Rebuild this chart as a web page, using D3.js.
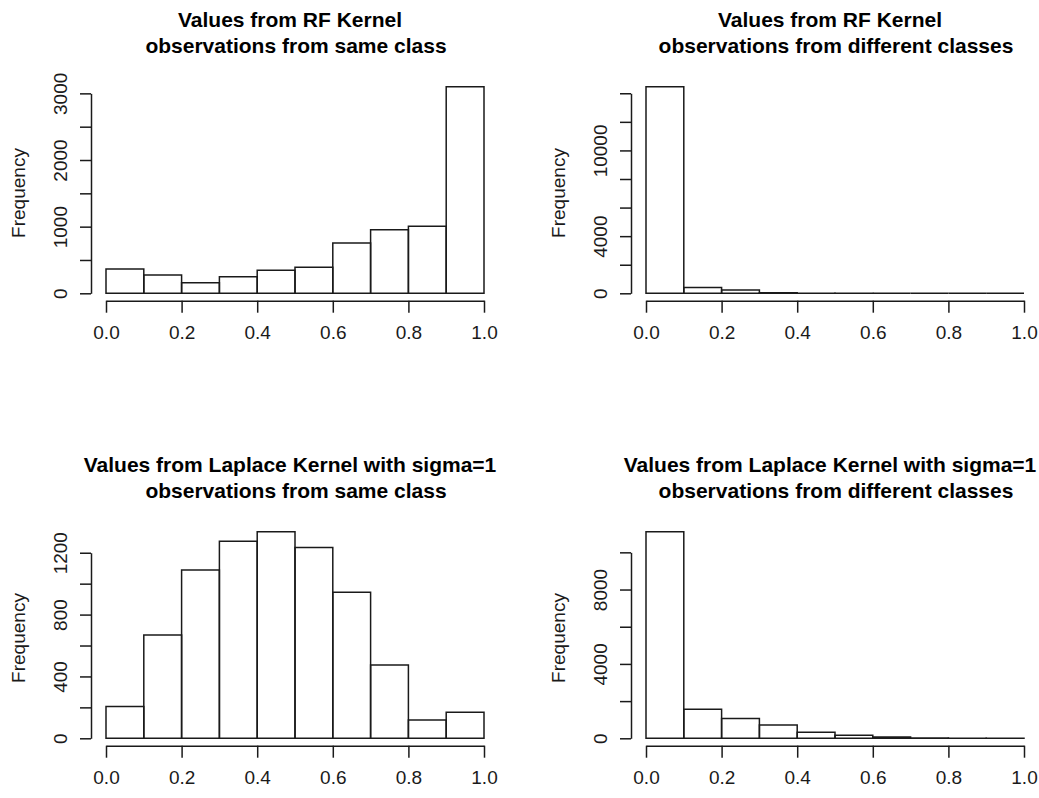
<!DOCTYPE html>
<html>
<head>
<meta charset="utf-8">
<script src="https://cdn.jsdelivr.net/npm/d3@7"></script>
<style>
  html, body { margin: 0; padding: 0; background: #fff; }
  svg { display: block; font-family: "Liberation Sans", Arial, Helvetica, sans-serif; }
</style>
</head>
<body>
<svg id="chart" width="1039" height="798"></svg>
<script>
// Histogram bins (lower and upper breaks)
const binLower = [0.0, 0.1, 0.2, 0.3, 0.4, 0.5, 0.6, 0.7, 0.8, 0.9];
const binUpper = [0.1, 0.2, 0.3, 0.4, 0.5, 0.6, 0.7, 0.8, 0.9, 1.0];

// Counts per bin
const rfSameCounts  = [365, 275, 160, 250, 345, 390, 755, 955, 1005, 3100];
const rfDiffCounts  = [14460, 400, 230, 40, 10, 3, 0, 0, 0, 0];
const lapSameCounts = [205, 668, 1088, 1275, 1336, 1234, 944, 474, 118, 168];
const lapDiffCounts = [11110, 1560, 1060, 720, 320, 160, 70, 15, 4, 1];

// Axis ticks and the subset of ticks that carry a label
const xTicks = [0.0, 0.2, 0.4, 0.6, 0.8, 1.0];
const rfSameTicks   = [0, 500, 1000, 1500, 2000, 2500, 3000];
const rfSameLabels  = [0, 1000, 2000, 3000];
const rfDiffTicks   = [0, 2000, 4000, 6000, 8000, 10000, 12000, 14000];
const rfDiffLabels  = [0, 4000, 10000];
const lapSameTicks  = [0, 200, 400, 600, 800, 1000, 1200];
const lapSameLabels = [0, 400, 800, 1200];
const lapDiffTicks  = [0, 2000, 4000, 6000, 8000, 10000];
const lapDiffLabels = [0, 4000, 8000];

// Titles (two lines each)
const titleTop    = ["Values from RF Kernel", "Values from RF Kernel",
                     "Values from Laplace Kernel with sigma=1", "Values from Laplace Kernel with sigma=1"];
const titleBottom = ["observations from same class", "observations from different classes",
                     "observations from same class", "observations from different classes"];
const yLabel = "Frequency";

// Layout of the 2x2 grid
const colOffset = [0, 540];
const rowOffset = [0, 445];
const plotLeft = 106, plotRight = 484;
const baseY = 293.3;      // y of a zero count
const peakY = 86.7;       // y of the tallest bar
const yAxisX = 91;
const xAxisGap = 7.4;
const ink = "#1a1a1a";

const panels = [
  { counts: rfSameCounts,  ticks: rfSameTicks,  labels: rfSameLabels,  col: 0, row: 0 },
  { counts: rfDiffCounts,  ticks: rfDiffTicks,  labels: rfDiffLabels,  col: 1, row: 0 },
  { counts: lapSameCounts, ticks: lapSameTicks, labels: lapSameLabels, col: 0, row: 1 },
  { counts: lapDiffCounts, ticks: lapDiffTicks, labels: lapDiffLabels, col: 1, row: 1 }
];

const svg = d3.select("#chart");

panels.forEach((p, i) => {
  const g = svg.append("g")
    .attr("transform", `translate(${colOffset[p.col]},${rowOffset[p.row]})`);

  const x = d3.scaleLinear().domain([0, 1]).range([plotLeft, plotRight]);
  const y = d3.scaleLinear().domain([0, d3.max(p.counts)]).range([baseY, peakY]);

  // Bars as closed outlines, so empty bins still show their base line
  const bins = p.counts.map((c, k) => ({ x0: binLower[k], x1: binUpper[k], n: c }));
  g.append("g").selectAll("path")
    .data(bins)
    .join("path")
    .attr("d", d => {
      const path = d3.path();
      path.moveTo(x(d.x0), y(0));
      path.lineTo(x(d.x0), y(d.n));
      path.lineTo(x(d.x1), y(d.n));
      path.lineTo(x(d.x1), y(0));
      path.closePath();
      return path.toString();
    })
    .attr("fill", "none")
    .attr("stroke", ink)
    .attr("stroke-width", 1.5);

  // Y axis: the line spans from 0 to the last tick
  const lastTick = p.ticks[p.ticks.length - 1];
  const yAxisScale = d3.scaleLinear().domain([0, lastTick]).range([y(0), y(lastTick)]);
  const yAxis = g.append("g")
    .attr("transform", `translate(${yAxisX},0)`)
    .call(d3.axisLeft(yAxisScale)
      .tickValues(p.ticks)
      .tickSize(11)
      .tickSizeOuter(0)
      .tickFormat(v => p.labels.includes(v) ? String(v) : ""));
  yAxis.select(".domain").attr("stroke", ink).attr("stroke-width", 1.5);
  yAxis.selectAll(".tick line").attr("stroke", ink).attr("stroke-width", 1.5);
  yAxis.selectAll(".tick text")
    .attr("transform", "rotate(-90)")
    .attr("x", 0)
    .attr("y", -24)
    .attr("dy", 0)
    .attr("text-anchor", "middle")
    .attr("fill", ink)
    .style("font-size", "19px");

  // X axis
  const xAxis = g.append("g")
    .attr("transform", `translate(0,${baseY + xAxisGap})`)
    .call(d3.axisBottom(x)
      .tickValues(xTicks)
      .tickSize(12)
      .tickSizeOuter(0)
      .tickFormat(d3.format(".1f")));
  xAxis.select(".domain").attr("stroke", ink).attr("stroke-width", 1.5);
  xAxis.selectAll(".tick line").attr("stroke", ink).attr("stroke-width", 1.5);
  xAxis.selectAll(".tick text")
    .attr("y", 45.3 - xAxisGap)
    .attr("dy", 0)
    .attr("fill", ink)
    .style("font-size", "19px");

  // Y axis title
  g.append("text")
    .attr("transform", `translate(25,${(baseY + peakY) / 2 + 3}) rotate(-90)`)
    .attr("text-anchor", "middle")
    .attr("fill", ink)
    .style("font-size", "19px")
    .text(yLabel);

  // Main title
  const cx = (plotLeft + plotRight) / 2;
  g.append("text")
    .attr("x", cx - 5)
    .attr("y", 27)
    .attr("text-anchor", "middle")
    .attr("fill", "#000")
    .style("font-size", "21px")
    .style("font-weight", "bold")
    .text(titleTop[i]);
  g.append("text")
    .attr("x", cx + 1)
    .attr("y", 53)
    .attr("text-anchor", "middle")
    .attr("fill", "#000")
    .style("font-size", "21px")
    .style("font-weight", "bold")
    .text(titleBottom[i]);
});
</script>
</body>
</html>
